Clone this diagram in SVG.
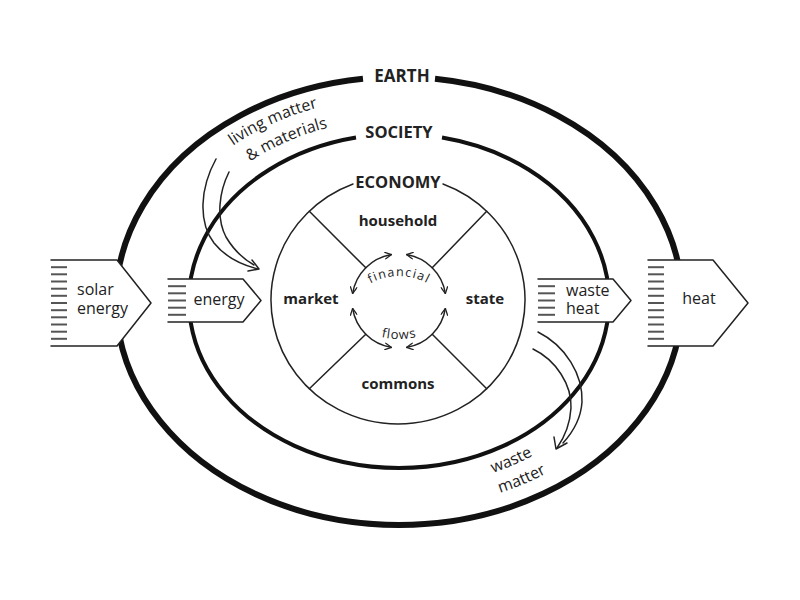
<svg xmlns="http://www.w3.org/2000/svg" width="800" height="600" viewBox="0 0 800 600">
<style>
  text { font-family: "Open Sans", "Liberation Sans", sans-serif; fill: #222; }
  .lbl { font-size: 16px; }
  .ring { font-size: 16.5px; font-weight: bold; text-anchor: middle; }
  .sect { font-size: 15px; font-weight: bold; text-anchor: middle; }
  .thin { fill: none; stroke: #222; stroke-width: 1.5; stroke-linecap: round; stroke-linejoin: round; }
  .box { fill: #fff; stroke: none; }
  .stripe { stroke: #555; stroke-width: 2; }
  .flow { fill: none; stroke: #222; stroke-width: 1.5; marker-start: url(#chev); marker-end: url(#chev); }
</style>
<defs>
  <marker id="chev" viewBox="0 0 10 10" refX="9" refY="5" markerWidth="8" markerHeight="8" markerUnits="userSpaceOnUse" orient="auto-start-reverse">
    <path d="M1,1 L9,5 L1,9" fill="none" stroke="#222" stroke-width="1.6" stroke-linecap="round" stroke-linejoin="round"/>
  </marker>
  <path id="tp-living1" d="M233,145.7 A256 204 0 0 1 527,124.3"/>
  <path id="tp-living2" d="M250,161.5 A232 182 0 0 1 515,143.4"/>
  <path id="tp-waste1" d="M493,473 A236.7 187.4 0 0 0 621.4,365.1"/>
  <path id="tp-waste2" d="M500,493 A263 208 0 0 0 646.1,372.1"/>
  <path id="tp-fin" d="M366,286 A60 60 0 0 1 432,286"/>
  <path id="tp-flows" d="M374,335 A80 80 0 0 0 424,335"/>
</defs>
<rect width="800" height="600" fill="#fff"/>

<g id="earth">
  <path d="M435,78.8 A283 224 0 1 1 363,78.8" fill="none" stroke="#111" stroke-width="6"/>
  <text class="ring" x="402" y="82" style="font-size:17px">EARTH</text>
</g>

<g id="society">
  <path d="M442,137.5 A210 167 0 1 1 356,137.5" fill="none" stroke="#111" stroke-width="4"/>
  <text class="ring" x="399" y="138">SOCIETY</text>
</g>

<g id="economy">
  <path d="M443,184 A127 124 0 1 1 353,184" class="thin"/>
  <text class="ring" x="398" y="188">ECONOMY</text>
  <line class="thin" x1="309.3" y1="211.3" x2="365.8" y2="267.8"/>
  <line class="thin" x1="486.7" y1="211.3" x2="432.2" y2="267.8"/>
  <line class="thin" x1="309.3" y1="388.7" x2="365.8" y2="334.2"/>
  <line class="thin" x1="486.7" y1="388.7" x2="432.2" y2="334.2"/>
</g>

<g id="household"><text class="sect" x="398" y="226">household</text></g>
<g id="market"><text class="sect" x="311" y="304">market</text></g>
<g id="state"><text class="sect" x="485" y="304">state</text></g>
<g id="commons"><text class="sect" x="398" y="389">commons</text></g>

<g id="financial-flows">
  <path class="flow" d="M352.6,293.6 A47 47 0 0 1 391.6,254.6"/>
  <path class="flow" d="M406.4,254.6 A47 47 0 0 1 445.4,293.6"/>
  <path class="flow" d="M445.4,308.4 A47 47 0 0 1 406.4,347.4"/>
  <path class="flow" d="M391.6,347.4 A47 47 0 0 1 352.6,308.4"/>
  <text style="font-size:12.5px;letter-spacing:1.2px" text-anchor="middle"><textPath href="#tp-fin" startOffset="50%">financial</textPath></text>
  <text style="font-size:13px;letter-spacing:0.8px" text-anchor="middle"><textPath href="#tp-flows" startOffset="50%">flows</textPath></text>
</g>

<g id="solar-energy">
  <polygon class="box" points="51,260 117,260 151,303 117,346 51,346"/>
  <polyline class="thin" points="51,260 117,260 151,303 117,346 51,346"/>
  <g class="stripe">
    <line x1="51" x2="67" y1="267.2" y2="267.2"/><line x1="51" x2="67" y1="274.3" y2="274.3"/>
    <line x1="51" x2="67" y1="281.5" y2="281.5"/><line x1="51" x2="67" y1="288.7" y2="288.7"/>
    <line x1="51" x2="67" y1="295.8" y2="295.8"/><line x1="51" x2="67" y1="303" y2="303"/>
    <line x1="51" x2="67" y1="310.2" y2="310.2"/><line x1="51" x2="67" y1="317.3" y2="317.3"/>
    <line x1="51" x2="67" y1="324.5" y2="324.5"/><line x1="51" x2="67" y1="331.7" y2="331.7"/>
    <line x1="51" x2="67" y1="338.8" y2="338.8"/>
  </g>
  <text class="lbl" x="77" y="295">solar</text>
  <text class="lbl" x="77" y="314">energy</text>
</g>

<g id="energy">
  <polygon class="box" points="168,279 243,279 261,300.5 243,322 168,322"/>
  <polyline class="thin" points="168,279 243,279 261,300.5 243,322 168,322"/>
  <g class="stripe">
    <line x1="168" x2="186" y1="286.2" y2="286.2"/><line x1="168" x2="186" y1="293.3" y2="293.3"/>
    <line x1="168" x2="186" y1="300.5" y2="300.5"/><line x1="168" x2="186" y1="307.7" y2="307.7"/>
    <line x1="168" x2="186" y1="314.8" y2="314.8"/>
  </g>
  <text class="lbl" x="219" y="305" text-anchor="middle">energy</text>
</g>

<g id="waste-heat">
  <polygon class="box" points="538,279 613,279 631,300.5 613,322 538,322"/>
  <polyline class="thin" points="538,279 613,279 631,300.5 613,322 538,322"/>
  <g class="stripe">
    <line x1="538" x2="555" y1="286.2" y2="286.2"/><line x1="538" x2="555" y1="293.3" y2="293.3"/>
    <line x1="538" x2="555" y1="300.5" y2="300.5"/><line x1="538" x2="555" y1="307.7" y2="307.7"/>
    <line x1="538" x2="555" y1="314.8" y2="314.8"/>
  </g>
  <text class="lbl" x="566" y="295.5">waste</text>
  <text class="lbl" x="566" y="314">heat</text>
</g>

<g id="heat">
  <polygon class="box" points="648,260 713,260 748,303 713,346 648,346"/>
  <polyline class="thin" points="648,260 713,260 748,303 713,346 648,346"/>
  <g class="stripe">
    <line x1="648" x2="664" y1="267.2" y2="267.2"/><line x1="648" x2="664" y1="274.3" y2="274.3"/>
    <line x1="648" x2="664" y1="281.5" y2="281.5"/><line x1="648" x2="664" y1="288.7" y2="288.7"/>
    <line x1="648" x2="664" y1="295.8" y2="295.8"/><line x1="648" x2="664" y1="303" y2="303"/>
    <line x1="648" x2="664" y1="310.2" y2="310.2"/><line x1="648" x2="664" y1="317.3" y2="317.3"/>
    <line x1="648" x2="664" y1="324.5" y2="324.5"/><line x1="648" x2="664" y1="331.7" y2="331.7"/>
    <line x1="648" x2="664" y1="338.8" y2="338.8"/>
  </g>
  <text class="lbl" x="699" y="304" text-anchor="middle">heat</text>
</g>

<g id="connectors">
  <g id="living-matter-arrow">
    <path class="thin" d="M216,159 C200,188 198,222 214,243 C226,258 242,265 258,269"/>
    <path class="thin" d="M229,172 C219,192 216,218 226,237 C235,252 245,260 254,265"/>
    <path class="thin" d="M248,271 L259,269 L252,260"/>
  </g>
  <g id="waste-matter-arrow">
    <path class="thin" d="M533,349 C556,360 572,385 571,408 C570,425 564,438 557,448"/>
    <path class="thin" d="M538,332 C566,346 583,375 582,402 C581,418 573,432 563,443"/>
    <path class="thin" d="M554,437 L556,449 L567,443"/>
  </g>
</g>

<g id="living-matter-label">
  <text class="lbl"><textPath href="#tp-living1">living matter</textPath></text>
  <text class="lbl"><textPath href="#tp-living2">&amp; materials</textPath></text>
</g>
<g id="waste-matter-label">
  <text class="lbl"><textPath href="#tp-waste1">waste</textPath></text>
  <text class="lbl"><textPath href="#tp-waste2">matter</textPath></text>
</g>
</svg>
